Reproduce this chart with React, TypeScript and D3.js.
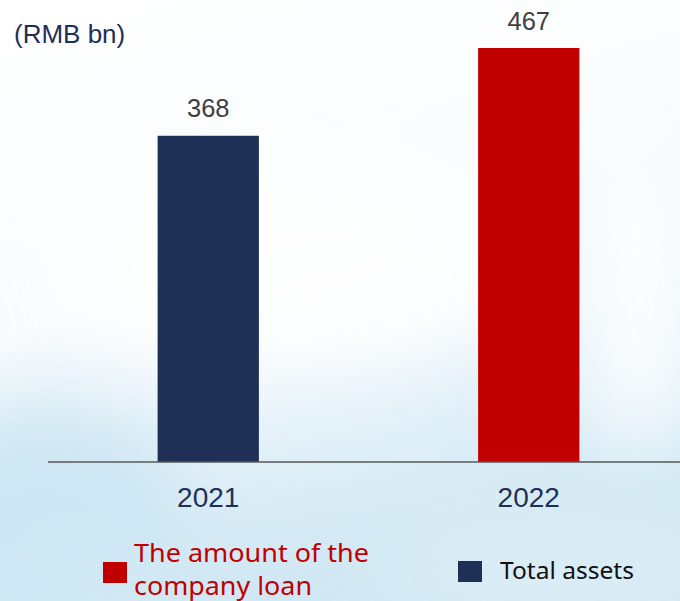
import React from "react";
import * as d3 from "d3";

const categories = ["2021", "2022"];
const values = [368, 467];
const barColors = ["#1F3057", "#C00000"];
const unitLabel = "(RMB bn)";
const legendItems = [
  { lines: ["The amount of the", "company loan"], color: "#C00000", textColor: "#C00000" },
  { lines: ["Total assets"], color: "#1F3057", textColor: "#111111" },
];

const W = 680;
const H = 601;

export default function App() {
  const x = d3.scaleBand<string>().domain(categories).range([48, 689]).paddingInner(0.684).paddingOuter(0.342);
  const y = d3.scaleLinear().domain([0, 467]).range([462, 48]);
  const bw = x.bandwidth();

  return (
    <svg
      width={W}
      height={H}
      style={{ position: "absolute", left: 0, top: 0, display: "block" }}
      fontFamily="'Liberation Sans', Arial, sans-serif"
    >
      <defs>
        <linearGradient id="bgGrad" x1="0" y1="0" x2="0.35" y2="1">
          <stop offset="0" stopColor="#ffffff" />
          <stop offset="0.5" stopColor="#f8fbfd" />
          <stop offset="0.75" stopColor="#e4f1f8" />
          <stop offset="1" stopColor="#d3e9f4" />
        </linearGradient>
        <filter id="blur" x="-50%" y="-50%" width="200%" height="200%">
          <feGaussianBlur stdDeviation="35" />
        </filter>
      </defs>
      <rect width={W} height={H} fill="url(#bgGrad)" />
      <g filter="url(#blur)" opacity={0.85}>
        <ellipse cx={40} cy={520} rx={150} ry={120} fill="#cbe5f3" />
        <ellipse cx={250} cy={590} rx={230} ry={55} fill="#d0e8f4" />
        <ellipse cx={560} cy={565} rx={180} ry={65} fill="#dbedf5" />
        <ellipse cx={300} cy={270} rx={240} ry={110} fill="#ffffff" />
        <ellipse cx={640} cy={300} rx={60} ry={150} fill="#ffffff" />
      </g>

      <text x={14} y={43} fontSize={26} fill="#1F3057">{unitLabel}</text>

      {categories.map((c, i) => {
        const bx = x(c) as number;
        const cx = bx + bw / 2;
        return (
          <g key={c}>
            <rect x={bx} y={y(values[i])} width={bw} height={y(0) - y(values[i])} fill={barColors[i]} />
            <text x={cx} y={y(values[i]) - 18.5} textAnchor="middle" fontSize={25.5} fill="#404040">
              {values[i]}
            </text>
            <text x={cx} y={y(0) + 45} textAnchor="middle" fontSize={28} fill="#1F3057">
              {c}
            </text>
          </g>
        );
      })}

      <line x1={48} x2={W} y1={y(0)} y2={y(0)} stroke="#595959" strokeWidth={1.5} />

      <g fontFamily="'Noto Sans', 'Open Sans', sans-serif">
        <rect x={103} y={562} width={24} height={21} fill={legendItems[0].color} />
        <text x={134} y={562} fontSize={25} fill={legendItems[0].textColor} textLength={235} lengthAdjust="spacingAndGlyphs">
          {legendItems[0].lines[0]}
        </text>
        <text x={134} y={595} fontSize={25} fill={legendItems[0].textColor} textLength={178} lengthAdjust="spacingAndGlyphs">
          {legendItems[0].lines[1]}
        </text>
        <rect x={458} y={561} width={24} height={21} fill={legendItems[1].color} />
        <text x={500} y={579} fontSize={24} fill={legendItems[1].textColor} textLength={134} lengthAdjust="spacingAndGlyphs">
          {legendItems[1].lines[0]}
        </text>
      </g>
    </svg>
  );
}
